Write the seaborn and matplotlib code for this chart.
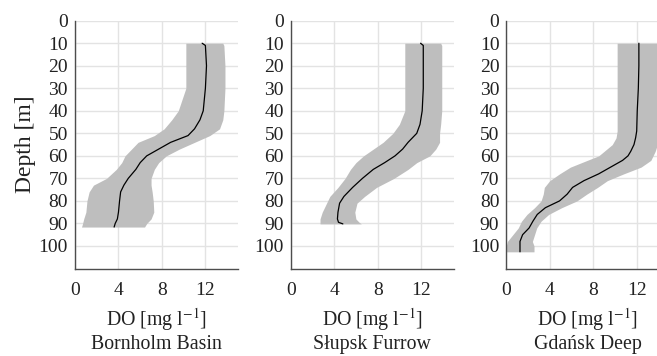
import matplotlib
matplotlib.use("Agg")
import matplotlib.pyplot as plt
import seaborn as sns
import pandas as pd

# ---------------- data ----------------
titles = ["Bornholm Basin", "Słupsk Furrow", "Gdańsk Deep"]

bb_depth = [10, 11, 20, 30, 40, 44, 48, 51, 54, 57, 60, 63, 66, 70, 73, 76, 80, 85, 88, 90, 91.6]
bb_mean = [11.7, 12.0, 12.1, 12.0, 11.8, 11.5, 11.0, 10.4, 8.8, 7.7, 6.6, 6.0, 5.6, 4.9, 4.5, 4.2, 4.1, 4.0, 3.9, 3.7, 3.6]
bb_low = [10.2, 10.2, 10.2, 10.2, 9.5, 8.9, 8.2, 7.3, 5.8, 5.2, 4.6, 4.3, 3.8, 2.9, 1.7, 1.3, 1.1, 1.0, 0.8, 0.7, 0.6]
bb_high = [13.6, 13.7, 13.8, 13.8, 13.7, 13.6, 13.3, 12.4, 11.0, 9.6, 8.4, 7.7, 7.3, 7.0, 7.0, 7.1, 7.2, 7.25, 7.0, 6.6, 6.4]

sf_depth = [10, 11, 20, 30, 40, 46, 50, 54, 57, 60, 63, 66, 70, 74, 78, 81, 85, 88, 89.5, 90.2]
sf_mean = [11.95, 12.2, 12.2, 12.2, 12.1, 11.9, 11.6, 10.8, 10.3, 9.6, 8.65, 7.6, 6.6, 5.7, 4.9, 4.5, 4.35, 4.3, 4.4, 4.8]
sf_low = [10.5, 10.5, 10.5, 10.5, 10.5, 10.0, 9.4, 8.5, 7.6, 6.7, 6.0, 5.5, 5.0, 4.35, 3.6, 3.3, 2.9, 2.7, 2.7, 2.7]
sf_high = [13.8, 13.9, 13.9, 13.9, 13.9, 13.8, 13.7, 13.7, 13.35, 12.8, 11.6, 10.8, 9.5, 7.9, 6.8, 6.1, 5.9, 6.0, 6.3, 6.5]

gd_depth = [10, 20, 30, 40, 49, 52, 55, 58, 60, 62, 65, 68, 71, 74, 77, 80, 83, 86, 89, 92, 95, 98, 100, 102.6]
gd_mean = [12.2, 12.2, 12.15, 12.05, 12.0, 11.9, 11.75, 11.45, 11.2, 10.7, 9.6, 8.5, 7.15, 6.1, 5.6, 4.9, 3.6, 2.85, 2.45, 2.1, 1.5, 1.26, 1.26, 1.26]
gd_low = [10.2, 10.2, 10.2, 10.2, 10.2, 10.1, 9.75, 9.0, 8.5, 7.45, 5.9, 4.9, 4.0, 3.5, 3.4, 3.2, 2.6, 1.9, 1.4, 1.1, 0.6, 0.1, 0.0, 0.0]
gd_high = [13.9, 13.9, 13.9, 13.9, 13.9, 13.9, 13.9, 13.7, 13.5, 13.3, 12.4, 10.8, 9.3, 8.4, 7.4, 6.5, 5.1, 3.9, 3.2, 2.8, 2.6, 2.4, 2.55, 2.55]

depth_ticks = list(range(0, 101, 10))
do_ticks = [0, 4, 8, 12]

panels = [
    (bb_depth, bb_mean, bb_low, bb_high),
    (sf_depth, sf_mean, sf_low, sf_high),
    (gd_depth, gd_mean, gd_low, gd_high),
]

# ---------------- style ----------------
sns.set_style("whitegrid")
plt.rcParams["font.family"] = ["Liberation Serif", "DejaVu Serif"]
plt.rcParams["mathtext.fontset"] = "stix"

W, H = 657, 356
fig = plt.figure(figsize=(W / 100, H / 100), dpi=100)
fig.patch.set_facecolor("white")

lefts = [75, 290.7, 506.3]
ax_w = 163
top_px, bot_px = 20.7, 268.5

for i, (left, (dep, mean, low, high), title) in enumerate(zip(lefts, panels, titles)):
    ax = fig.add_axes([left / W, (H - bot_px) / H, ax_w / W, (bot_px - top_px) / H])
    ax.set_facecolor("white")
    ax.fill_betweenx(dep, low, high, color="#bebebe", linewidth=0, zorder=2)
    df = pd.DataFrame({"depth": dep, "DO": mean})
    sns.lineplot(data=df, x="DO", y="depth", sort=False, orient="y",
                 color="black", linewidth=0.9, ax=ax, zorder=3)
    ax.set_xlim(0, 15)
    ax.set_ylim(110, 0)
    ax.set_xticks(do_ticks)
    ax.set_yticks(depth_ticks)
    ax.grid(True, color="#e3e3e3", linewidth=1.0, zorder=0)
    ax.set_axisbelow(True)
    for s in ["top", "right"]:
        ax.spines[s].set_visible(False)
    for s in ["left", "bottom"]:
        ax.spines[s].set_visible(True)
        ax.spines[s].set_color("#4d4d4d")
        ax.spines[s].set_linewidth(1.0)
    ax.tick_params(axis="both", direction="in", length=2.5, width=0.8,
                   color="#4d4d4d", labelsize=14, labelcolor="#222222")
    ax.tick_params(axis="y", pad=5)
    ax.tick_params(axis="x", pad=10)
    ax.set_xlabel("DO [mg l$^{-1}$]\n" + title, fontsize=14.3, color="#222222",
                  labelpad=4.5, linespacing=1.18)
    if i == 0:
        ax.set_ylabel("Depth [m]", fontsize=17, color="#222222", labelpad=2)
    else:
        ax.set_ylabel("")

fig.savefig("out.png", dpi=100, facecolor="white")
